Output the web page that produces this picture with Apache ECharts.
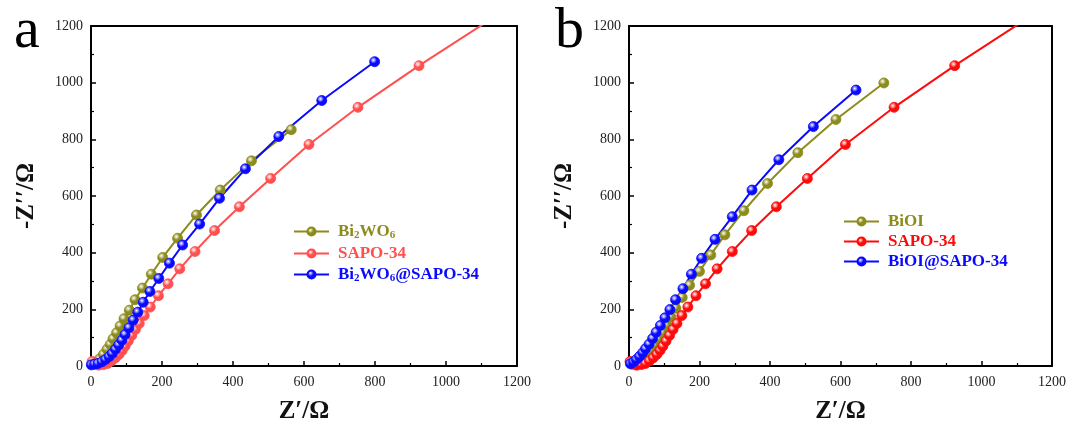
<!DOCTYPE html>
<html><head><meta charset="utf-8">
<script src="https://cdn.jsdelivr.net/npm/echarts@6/dist/echarts.min.js"></script>
<style>html,body{margin:0;padding:0;background:#fff}#c{width:1073px;height:429px}</style>
</head><body><div id="c"></div>
<script>
// ---- data (Z', -Z'') ----
const sapoA = [[3,16],[12,8],[22,3],[35,5],[47,9],[58,18],[69,29],[79,41],[88,55],[96,70],[105,88],[115,108],[125,129],[136,150],[150,178],[167,208],[190,248],[217,290],[250,343],[293,404],[348,478],[418,562],[506,662],[614,782],[752,913],[924,1060],[1140,1235]];
const bi2wo6 = [[3,9],[14,14],[25,26],[35,41],[45,59],[54,76],[62,96],[72,117],[82,141],[93,167],[108,197],[124,234],[145,275],[170,324],[202,383],[244,451],[297,533],[364,621],[452,724],[564,834]];
const bi2wo6Sapo = [[1,4],[10,6],[20,9],[31,15],[41,23],[51,33],[60,44],[69,59],[78,74],[87,91],[96,111],[107,135],[119,162],[132,190],[147,225],[166,263],[191,309],[221,363],[258,427],[306,501],[362,592],[435,696],[529,810],[650,937],[799,1074]];
const sapoB = [[3,16],[12,8],[22,3],[35,5],[47,9],[58,18],[69,29],[79,41],[88,55],[96,70],[105,88],[115,108],[125,129],[136,150],[150,178],[167,208],[190,248],[217,290],[250,343],[293,404],[348,478],[418,562],[506,662],[614,782],[752,913],[924,1060],[1140,1235]];
const bioi = [[10,5],[19,9],[30,16],[41,27],[51,40],[62,55],[73,73],[83,94],[95,117],[107,143],[119,172],[133,204],[151,242],[172,285],[200,334],[232,392],[272,463],[326,548],[393,644],[479,753],[587,870],[723,999]];
const bioiSapo = [[4,8],[13,14],[21,23],[30,34],[39,47],[47,61],[57,77],[67,97],[77,119],[89,143],[102,170],[116,199],[132,234],[153,273],[177,324],[206,380],[244,447],[293,527],[349,621],[425,728],[523,845],[644,974]];
const axisMin = 0, axisMax = 1200, axisStep = 200;
const xTitle = 'Z\u2032/\u03A9';
const yTitle = '-Z\u2032\u2032/\u03A9';
const panelLetters = ['a', 'b'];

const OLIVE = '#8c8c1c', REDA = '#ff4f4f', REDB = '#ff0a0a', BLUE = '#0a0aff';
const SERIF = '"Liberation Serif","DejaVu Serif",serif';

function sphere(c){
  return {type:'radial', x:0.38, y:0.35, r:0.7, colorStops:[
    {offset:0, color:'#ffffff'},{offset:0.45, color:c},{offset:1, color:c}]};
}
function mkSeries(name, data, color, idx){
  return {name, type:'line', data, xAxisIndex:idx, yAxisIndex:idx,
    symbol:'circle', symbolSize:10, clip:true,
    lineStyle:{color, width:2},
    itemStyle:{color:sphere(color), borderColor:color, borderWidth:0.8},
    emphasis:{disabled:true}, z:3};
}
const plainNum = v => String(v);
function xAxes(gi){
  return [
    {type:'value', gridIndex:gi, min:axisMin, max:axisMax, interval:axisStep, position:'bottom',
     name:xTitle, nameLocation:'middle', nameGap:33,
     nameTextStyle:{fontFamily:SERIF, fontWeight:'bold', fontSize:25, color:'#111'},
     axisLine:{show:true, onZero:false, lineStyle:{color:'#000', width:2}},
     axisTick:{show:true, inside:true, length:5, lineStyle:{color:'#000', width:1.5}},
     minorTick:{show:true, splitNumber:2, length:3, lineStyle:{color:'#000', width:1.2}},
     axisLabel:{fontFamily:SERIF, fontSize:14, color:'#222', margin:9, formatter:plainNum},
     splitLine:{show:false}},
    {type:'value', gridIndex:gi, min:axisMin, max:axisMax, position:'top',
     axisLine:{show:true, onZero:false, lineStyle:{color:'#000', width:2}},
     axisTick:{show:false}, axisLabel:{show:false}, splitLine:{show:false}}
  ];
}
function yAxes(gi){
  return [
    {type:'value', gridIndex:gi, min:axisMin, max:axisMax, interval:axisStep, position:'left',
     name:yTitle, nameLocation:'middle', nameGap:52,
     nameTextStyle:{fontFamily:SERIF, fontWeight:'bold', fontSize:25, color:'#111'},
     axisLine:{show:true, onZero:false, lineStyle:{color:'#000', width:2}},
     axisTick:{show:true, inside:true, length:5, lineStyle:{color:'#000', width:1.5}},
     minorTick:{show:true, splitNumber:2, length:3, lineStyle:{color:'#000', width:1.2}},
     axisLabel:{fontFamily:SERIF, fontSize:14, color:'#222', margin:8, formatter:plainNum},
     splitLine:{show:false}},
    {type:'value', gridIndex:gi, min:axisMin, max:axisMax, position:'right',
     axisLine:{show:true, onZero:false, lineStyle:{color:'#000', width:2}},
     axisTick:{show:false}, axisLabel:{show:false}, splitLine:{show:false}}
  ];
}
const labelMap = {
  'Bi2WO6':'{n|Bi}{s|2}{n|WO}{s|6}',
  'SAPO-34':'{n|SAPO-34}',
  'Bi2WO6@SAPO-34':'{n|Bi}{s|2}{n|WO}{s|6}{n|@SAPO-34}',
  'BiOI':'{n|BiOI}',
  'SAPO-34 ':'{n|SAPO-34}',
  'BiOI@SAPO-34':'{n|BiOI@SAPO-34}'
};
const rich = {
  n:{fontFamily:SERIF, fontWeight:'bold', fontSize:17, lineHeight:19},
  s:{fontFamily:SERIF, fontWeight:'bold', fontSize:11, lineHeight:19, verticalAlign:'bottom'}
};
function legend(left, top, items, gap){
  return {orient:'vertical', left, top, itemWidth:35, itemHeight:10, itemGap:gap,
    selectedMode:false,
    data: items.map(([n,c]) => ({name:n, textStyle:{color:c}})),
    formatter: n => labelMap[n],
    textStyle:{fontFamily:SERIF, fontWeight:'bold', fontSize:17, rich, padding:[0,0,0,4]}};
}

const chart = echarts.init(document.getElementById('c'), null, {renderer:'canvas'});
chart.setOption({
  animation:false,
  backgroundColor:'#fff',
  title:[
    {text:panelLetters[0], left:9, top:-2, textStyle:{fontFamily:SERIF, fontWeight:'normal', fontSize:58, color:'#000'}},
    {text:panelLetters[1], left:550, top:-2, textStyle:{fontFamily:SERIF, fontWeight:'normal', fontSize:58, color:'#000'}}
  ],
  grid:[
    {left:91, right:556, top:26, bottom:62},
    {left:629, right:21, top:26, bottom:62}
  ],
  xAxis:[...xAxes(0), ...xAxes(1)],
  yAxis:[...yAxes(0), ...yAxes(1)],
  legend:[
    legend(288, 218, [['Bi2WO6',OLIVE],['SAPO-34',REDA],['Bi2WO6@SAPO-34',BLUE]], 4),
    legend(838, 208, [['BiOI',OLIVE],['SAPO-34 ',REDB],['BiOI@SAPO-34',BLUE]], 3)
  ],
  series:[
    mkSeries('Bi2WO6', bi2wo6, OLIVE, 0),
    mkSeries('SAPO-34', sapoA, REDA, 0),
    mkSeries('Bi2WO6@SAPO-34', bi2wo6Sapo, BLUE, 0),
    mkSeries('BiOI', bioi, OLIVE, 2),
    mkSeries('SAPO-34 ', sapoB, REDB, 2),
    mkSeries('BiOI@SAPO-34', bioiSapo, BLUE, 2)
  ]
});
</script></body></html>
